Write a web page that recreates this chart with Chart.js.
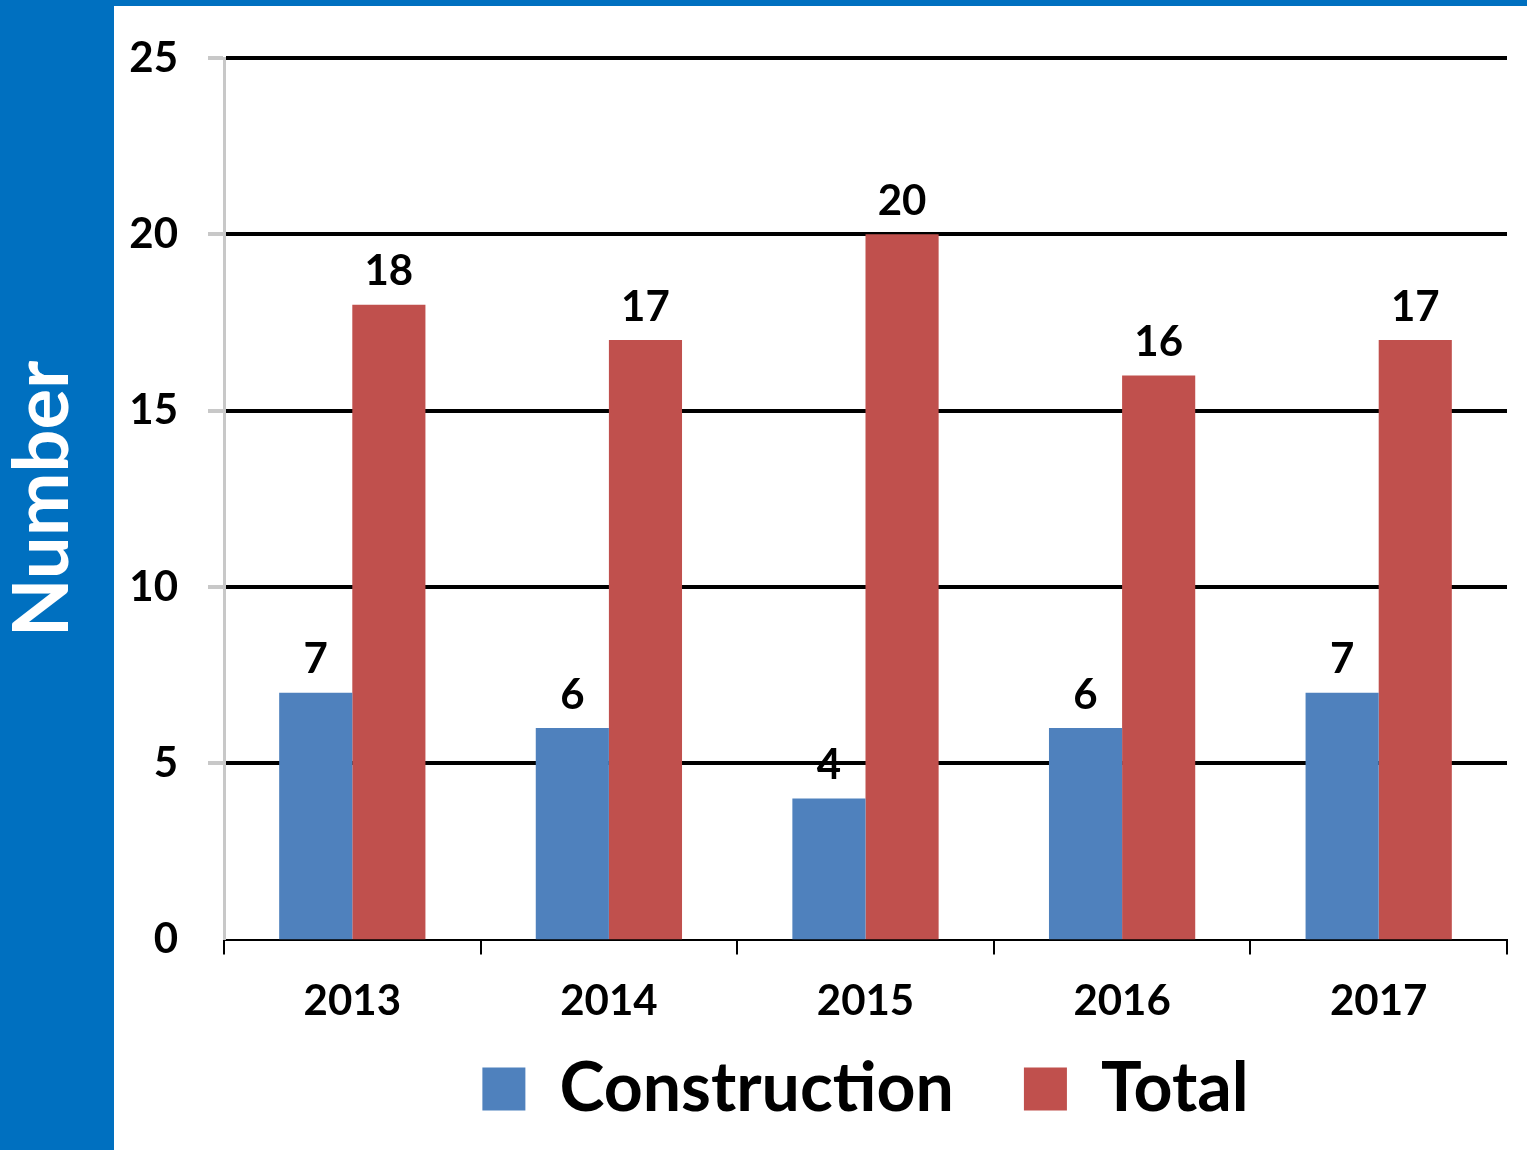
<!DOCTYPE html>
<html>
<head>
<meta charset="utf-8">
<script src="https://cdn.jsdelivr.net/npm/chart.js"></script>
<style>
  html, body { margin: 0; padding: 0; background: #ffffff; }
  #wrap { width: 1527px; height: 1150px; position: relative; }
</style>
</head>
<body>
<div id="wrap"><canvas id="chart"></canvas></div>
<script>
// Data
const years = ['2013', '2014', '2015', '2016', '2017'];
const construction = [7, 6, 4, 6, 7];
const total = [18, 17, 20, 16, 17];
const yTicks = [0, 5, 10, 15, 20, 25];

const FONT = 'Lato, "Open Sans", sans-serif';
const X_SHRINK = 64; // x axis box made shorter so the plot reaches down to the baseline

// Blue frame (left band + top strip) behind the chart
const frame = {
    id: 'frame',
    beforeDraw(chart) {
        const c = chart.ctx;
        c.save();
        c.fillStyle = '#ffffff';
        c.fillRect(0, 0, chart.width, chart.height);
        c.fillStyle = '#0070c0';
        c.fillRect(0, 0, 114, chart.height);
        c.fillRect(0, 0, chart.width, 6);
        c.restore();
    }
};

// give the x labels their room back after layout (they are clipped to the scale box)
const xLabelRoom = {
    id: 'xLabelRoom',
    afterLayout(chart) {
        chart.scales.x.bottom += X_SHRINK;
    }
};

// Value labels above each bar
const valueLabels = {
    id: 'valueLabels',
    afterDatasetsDraw(chart) {
        const c = chart.ctx;
        c.save();
        c.font = 'bold 42px ' + FONT;
        c.fillStyle = '#000000';
        c.textAlign = 'center';
        c.textBaseline = 'bottom';
        chart.data.datasets.forEach((ds, i) => {
            chart.getDatasetMeta(i).data.forEach((bar, j) => {
                c.fillText(ds.data[j], bar.x, bar.y - 12);
            });
        });
        c.restore();
    }
};

new Chart(document.getElementById('chart'), {
    type: 'bar',
    data: {
        labels: years,
        datasets: [
            {
                label: 'Construction',
                data: construction,
                backgroundColor: '#4f81bd',
                borderWidth: 0
            },
            {
                label: 'Total',
                data: total,
                backgroundColor: '#c0504d',
                borderWidth: 0
            }
        ]
    },
    options: {
        responsive: true,
        maintainAspectRatio: false,
        animation: false,
        layout: { padding: { top: 58, right: 20, left: 0, bottom: 17 } },
        datasets: {
            bar: { barPercentage: 1.0, categoryPercentage: 0.57 }
        },
        plugins: {
            legend: {
                display: true,
                position: 'bottom',
                fullSize: false,
                labels: {
                    boxWidth: 43,
                    boxHeight: 43,
                    padding: 70,
                    color: '#000000',
                    font: { family: FONT, size: 68, weight: 'bold' }
                }
            },
            tooltip: { enabled: false }
        },
        scales: {
            x: {
                afterFit(scale) {
                    scale.height -= X_SHRINK;
                },
                grid: {
                    offset: true,
                    drawOnChartArea: false,
                    color: '#000000',
                    tickLength: 15,
                    lineWidth: 2
                },
                border: { display: true, color: '#000000', width: 2 },
                ticks: {
                    color: '#000000',
                    padding: 22,
                    font: { family: FONT, size: 42, weight: 'bold' }
                }
            },
            y: {
                min: 0,
                max: 25,
                afterBuildTicks(scale) {
                    scale.ticks = yTicks.map(v => ({ value: v }));
                },
                afterFit(scale) {
                    scale.width = 224;
                },
                grid: {
                    color: '#000000',
                    tickColor: '#c8c8c8',
                    tickLength: 16,
                    lineWidth: ctx => (ctx.tick && ctx.tick.value === 0 ? 0 : 4)
                },
                border: { display: true, color: '#c8c8c8', width: 3 },
                ticks: {
                    color: '#000000',
                    padding: 30,
                    font: { family: FONT, size: 42, weight: 'bold' }
                },
                title: {
                    display: true,
                    text: 'Number',
                    color: '#ffffff',
                    padding: { top: 5, bottom: 0 },
                    font: { family: FONT, size: 76, weight: 'bold', lineHeight: 1 }
                }
            }
        }
    },
    plugins: [frame, xLabelRoom, valueLabels]
});
</script>
</body>
</html>
